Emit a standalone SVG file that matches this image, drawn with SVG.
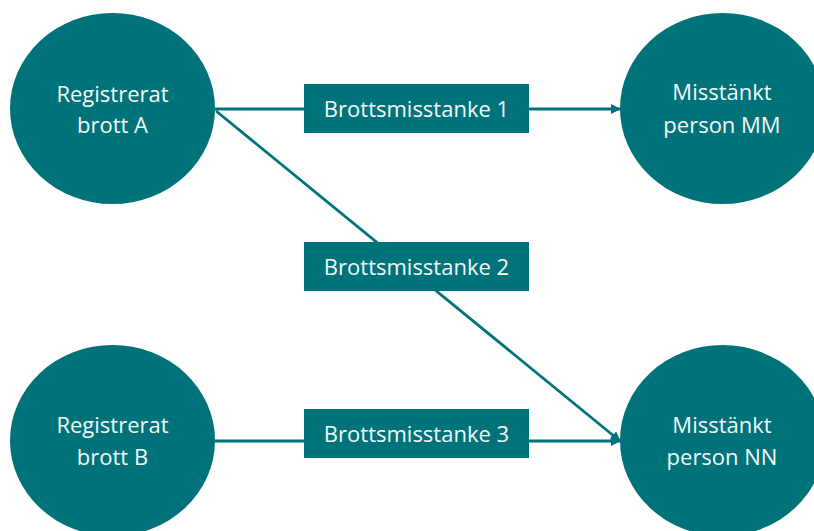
<svg xmlns="http://www.w3.org/2000/svg" width="814" height="531" viewBox="0 0 814 531">
<defs>
<style>
.node{fill:#00737a}
.lbl{fill:#f4f8f8;font-family:"Open Sans","Liberation Sans",sans-serif;font-size:22px;text-anchor:middle}
.conn{stroke:#00737a;stroke-width:2.8;fill:none}
</style>
<marker id="arr" viewBox="0 0 10 10" refX="9" refY="5" markerWidth="3.6" markerHeight="3.6" orient="auto" markerUnits="strokeWidth">
<path d="M0,0 L10,5 L0,10 z" fill="#00737a"/>
</marker>
</defs>
<rect width="814" height="531" fill="#ffffff"/>
<g id="connectors">
<line class="conn" x1="215" y1="109" x2="620" y2="109" marker-end="url(#arr)"/>
<line class="conn" x1="216" y1="111" x2="620" y2="441" marker-end="url(#arr)"/>
<line class="conn" x1="215" y1="441" x2="620" y2="441" marker-end="url(#arr)"/>
</g>
<g id="brottA">
<ellipse class="node" cx="112.5" cy="108.5" rx="102.5" ry="95.5"/>
<text class="lbl" x="112.5" y="102">Registrerat</text>
<text class="lbl" x="112.5" y="133">brott A</text>
</g>
<g id="brottB">
<ellipse class="node" cx="112.5" cy="440.5" rx="102.5" ry="95.5"/>
<text class="lbl" x="112.5" y="433">Registrerat</text>
<text class="lbl" x="112.5" y="465">brott B</text>
</g>
<g id="personMM">
<ellipse class="node" cx="722.5" cy="108.5" rx="102.5" ry="95.5"/>
<text class="lbl" x="722" y="100">Misstänkt</text>
<text class="lbl" x="722" y="133">person MM</text>
</g>
<g id="personNN">
<ellipse class="node" cx="722.5" cy="440.5" rx="102.5" ry="95.5"/>
<text class="lbl" x="722" y="433">Misstänkt</text>
<text class="lbl" x="722" y="465">person NN</text>
</g>
<g id="misstanke1">
<rect class="node" x="304" y="84" width="225" height="49"/>
<text class="lbl" x="416.5" y="117">Brottsmisstanke 1</text>
</g>
<g id="misstanke2">
<rect class="node" x="304" y="242" width="225" height="49"/>
<text class="lbl" x="416.5" y="275">Brottsmisstanke 2</text>
</g>
<g id="misstanke3">
<rect class="node" x="304" y="409" width="225" height="49"/>
<text class="lbl" x="416.5" y="442">Brottsmisstanke 3</text>
</g>
</svg>
